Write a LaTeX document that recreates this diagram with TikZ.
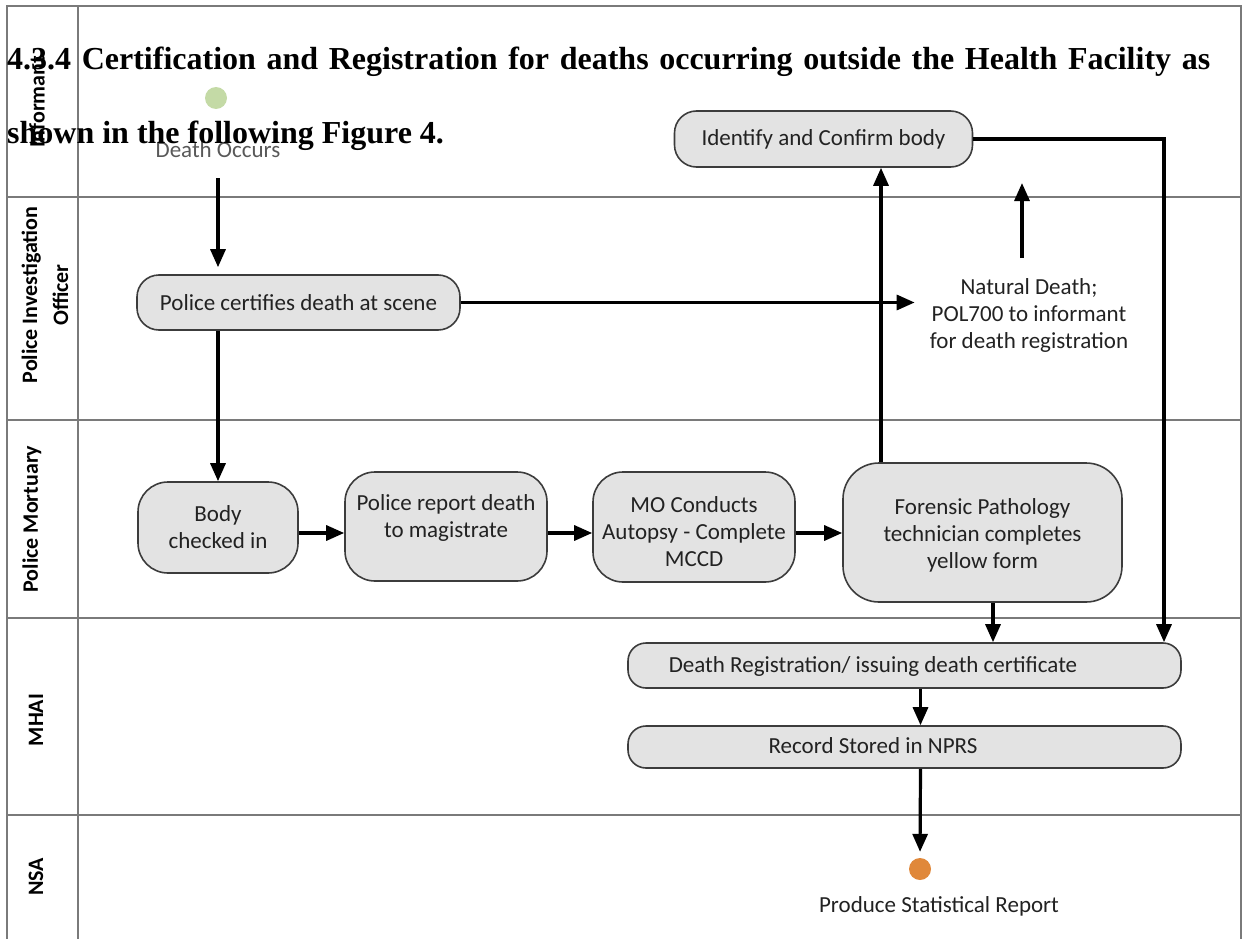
\documentclass[tikz,border=0pt]{standalone}
\usepackage{fontspec}
\setmainfont{Carlito}
\newfontfamily\headfont{Liberation Serif}
\usetikzlibrary{arrows.meta,calc}

\definecolor{boxfill}{HTML}{E3E3E3}
\definecolor{boxline}{HTML}{3C3C3C}
\definecolor{laneline}{HTML}{7A7A7A}
\definecolor{txt}{HTML}{222222}
\definecolor{startgreen}{HTML}{C4DAA6}
\definecolor{endorange}{HTML}{E0883A}

\newcommand{\bodyfont}{\fontsize{23}{27}\selectfont}
\newcommand{\lanefont}{\bfseries\fontsize{22}{31}\selectfont}

\begin{document}
\begin{tikzpicture}[x=1pt,y=-1pt,
  lane/.style={draw=laneline,line width=1.4pt},
  lanelabel/.style={rotate=90,font=\lanefont,text=black,align=center,inner sep=0pt},
  task/.style={draw=boxline,fill=boxfill,line width=1.6pt,text=txt,
    align=center,font=\bodyfont,inner sep=0pt},
  plain/.style={text=txt,align=center,font=\bodyfont,inner sep=0pt},
  flow/.style={-{Triangle[length=18pt,width=15pt]},line width=3.2pt,draw=black},
  event/.style={circle,inner sep=0pt,minimum size=22pt}
]
\useasboundingbox (0,0) rectangle (1247,939);

% swimlane grid
\draw[lane] (7,939) -- (7,6) -- (1241,6) -- (1241,939);
\draw[lane] (78,6) -- (78,939);
\foreach \yy in {197,420,618,815}
  \draw[lane] (7,\yy) -- (1241,\yy);

% lane titles
\node[lanelabel] (lInf) at (37,102) {Informant};
\node[lanelabel] (lPio) at (45,295) {Police Investigation\\Officer};
\node[lanelabel] (lMort) at (32,519) {Police Mortuary};
\node[lanelabel] (lMhai) at (36,720) {MHAI};
\node[lanelabel] (lNsa) at (36,877) {NSA};

% events
\node[event,fill=startgreen] (start) at (216,98) {};
\node[plain,text=black!65] (occurs) at (218,150) {Death Occurs};
\node[event,fill=endorange] (endc) at (920,869) {};
\node[plain] (produce) at (939,906) {Produce Statistical Report};

% activities
\node[task,rounded corners=22pt,minimum width=323pt,minimum height=55pt]
  (certify) at (298.5,302.5) {Police certifies death at scene};
\node[task,rounded corners=22pt,minimum width=298pt,minimum height=56pt]
  (ident) at (823.5,139) {Identify and Confirm body};
\node[plain] (natural) at (1029,315) {Natural Death;\\POL700 to informant\\for death registration};
\node[task,rounded corners=30pt,minimum width=160pt,minimum height=91pt]
  (body) at (218,527.5) {Body\\checked in};
\node[task,rounded corners=30pt,minimum width=202pt,minimum height=109pt]
  (report) at (446,526.5) {};
\node[plain] (reportT) at (446,518) {Police report death\\to magistrate};
\node[task,rounded corners=30pt,minimum width=202pt,minimum height=110pt]
  (mo) at (694,527) {};
\node[plain] (moT) at (694,532) {MO Conducts\\Autopsy - Complete\\MCCD};
\node[task,rounded corners=36pt,minimum width=279pt,minimum height=139pt]
  (forensic) at (982.5,532.5) {};
\node[plain] (forensicT) at (982.5,535) {Forensic Pathology\\technician completes\\yellow form};
\node[task,rounded corners=18pt,minimum width=553pt,minimum height=45pt]
  (dr) at (904.5,665.5) {};
\node[plain] (drT) at (873,666) {Death Registration/ issuing death certificate};
\node[task,rounded corners=18pt,minimum width=553pt,minimum height=42pt]
  (rec) at (904.5,747) {};
\node[plain] (recT) at (873,746) {Record Stored in NPRS};

% routing guides
\coordinate (occTop) at (218,178);
\coordinate (row) at (0,533);
\coordinate (upx) at (881,0);
\coordinate (rx) at (1164,0);
\coordinate (fx) at (993,0);
\coordinate (cx) at (920.5,0);
\coordinate (natBot) at (1022,258);
\coordinate (natTop) at (1022,183);

% flows
\draw[flow,shorten >=7pt] (occTop) -- (occTop |- certify.north);
\draw[flow] (certify.south -| body.north) -- (body.north);
\draw[flow] (certify.east) -- ([xshift=-15pt]natural.west |- certify.east);
\draw[flow] (natBot) -- (natTop);
\draw[flow] (body.east |- row) -- (report.west |- row);
\draw[flow] (report.east |- row) -- (mo.west |- row);
\draw[flow] (mo.east |- row) -- (forensic.west |- row);
\draw[flow] (forensic.north -| upx) -- (ident.south -| upx);
\draw[flow] (ident.east) -- (ident.east -| rx) -- (rx |- dr.north);
\draw[flow] (forensic.south -| fx) -- (fx |- dr.north);
\draw[flow] (dr.south -| cx) -- (rec.north -| cx);
\draw[flow,shorten >=6pt] (rec.south -| cx) -- (endc.north);

% section heading set over the chart
\node[anchor=base west,inner sep=0pt,font=\headfont\bfseries\fontsize{32}{32}\selectfont]
  (head1) at (7,70) {\makebox[1203pt][s]{4.3.4 Certification and Registration for deaths occurring outside the Health Facility as}};
\node[anchor=base west,inner sep=0pt,font=\headfont\bfseries\fontsize{32}{32}\selectfont]
  (head2) at (7,143) {shown in the following Figure 4.};
\end{tikzpicture}
\end{document}
